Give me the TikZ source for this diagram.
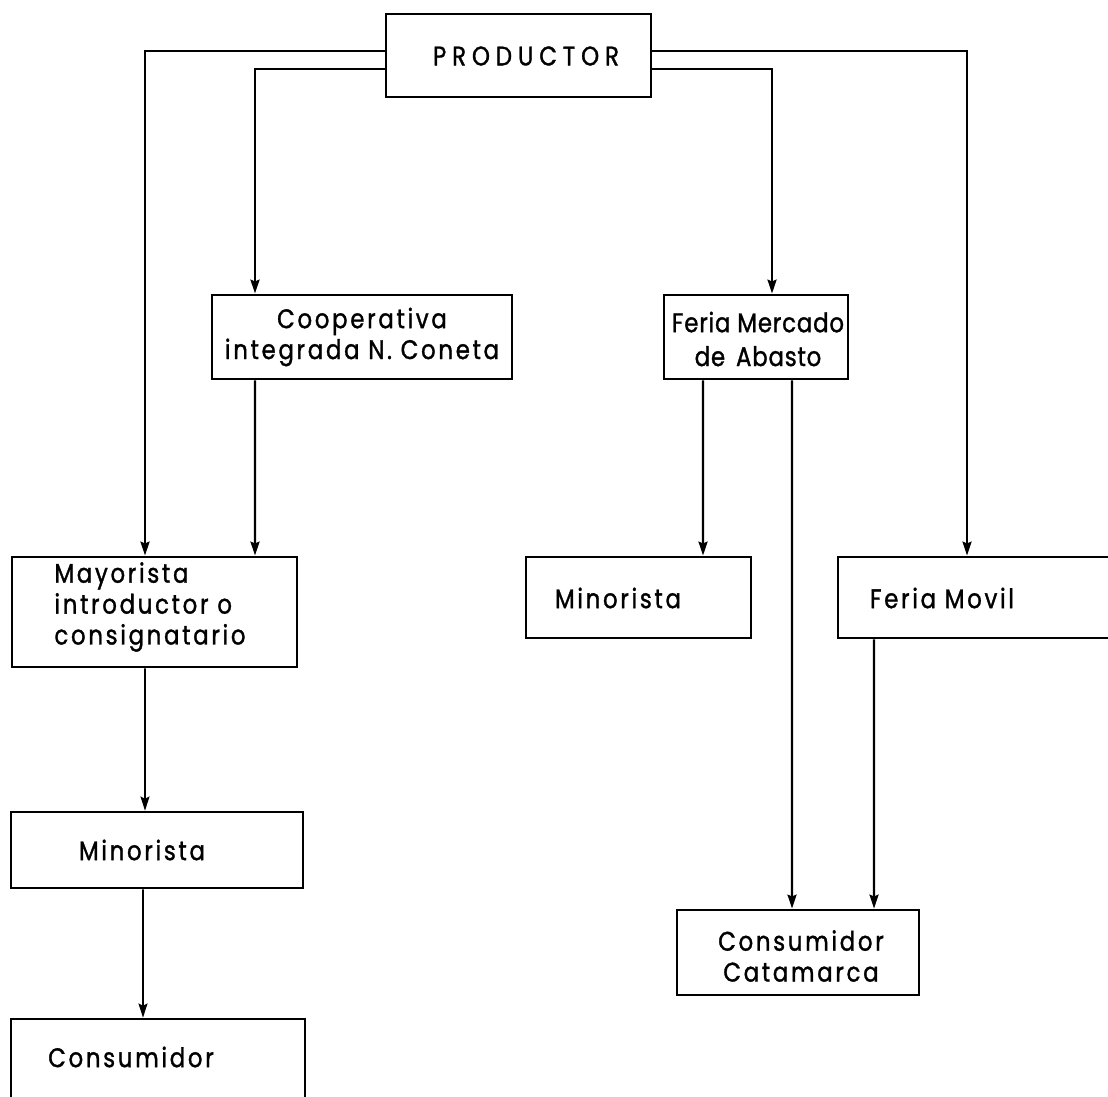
\documentclass[tikz,border=0pt]{standalone}
\usepackage{fontspec}
\setmainfont{Poppins}[LetterSpace=10, FakeStretch=0.85, FakeBold=1.2]
\usetikzlibrary{arrows.meta}

\begin{document}
\begin{tikzpicture}[x=1bp,y=-1bp,
  box/.style={draw, line width=2.8bp, inner sep=0pt},
  lbl/.style={inner sep=0pt, font=\fontsize{27}{31}\selectfont},
  link/.style={line width=2.4bp, -{Stealth[length=14bp,width=9bp,inset=2bp]}},
  thinlink/.style={link, line width=1.8bp}]
\useasboundingbox (0,0) rectangle (1108,1097);
\clip (0,0) rectangle (1108,1097);

% boxes
\node[box, minimum width=265bp, minimum height=83bp] (prod) at (518.5,55.5) {};
\node[box, minimum width=300bp, minimum height=84bp] (coop) at (362,337) {};
\node[box, minimum width=184bp, minimum height=84bp] (feria) at (756,337) {};
\node[box, minimum width=285bp, minimum height=110bp] (mayor) at (154.5,612) {};
\node[box, minimum width=225bp, minimum height=81bp] (minR) at (638.5,597.5) {};
\node[box, minimum width=274bp, minimum height=81bp] (movil) at (975,597.5) {};
\node[box, minimum width=292bp, minimum height=76bp] (minL) at (157,850) {};
\node[box, minimum width=242bp, minimum height=85bp] (cc) at (798,952.5) {};
\node[box, minimum width=294bp, minimum height=91bp] (cons) at (158,1064.5) {};

% labels
\node[lbl, font=\fontsize{27}{31}\selectfont\addfontfeatures{LetterSpace=22}] (tprod) at (526,56) {PRODUCTOR};
\node[lbl, align=center] (tcoop) at (362,337) {Cooperativa\\integrada N. Coneta};
\node[lbl, align=center, font=\fontsize{27}{34}\selectfont\addfontfeatures{LetterSpace=3}] (tferia) at (758,339) {Feria Mercado\\de\hspace{4bp} Abasto};
\node[lbl, align=left] (tmayor) at (150,607) {Mayorista\\introductor o\\consignatario};
\node[lbl] (tminR) at (618,598) {Minorista};
\node[lbl] (tmovil) at (942,598) {Feria Movil};
\node[lbl] (tminL) at (142,850) {Minorista};
\node[lbl, align=center] (tcc) at (801,956) {Consumidor\\Catamarca};
\node[lbl] (tcons) at (131,1057) {Consumidor};

% flows out of the producer
\draw[link] ([yshift=4.5bp]prod.west) -| ([xshift=-9.5bp]mayor.north);
\draw[link] ([yshift=-13.5bp]prod.west) -| ([xshift=-107bp]coop.north);
\draw[link] ([yshift=-13.5bp]prod.east) -| ([xshift=16bp]feria.north);
\draw[link] ([yshift=4.5bp]prod.east) -| ([xshift=-8bp]movil.north);

% intermediate flows
\draw[link] ([xshift=-107bp]coop.south) -- ([xshift=100.5bp]mayor.north);
\draw[link] ([xshift=-53bp]feria.south) -- ([xshift=64.5bp]minR.north);
\draw[link] ([xshift=36bp]feria.south) -- ([xshift=-6bp]cc.north);
\draw[link] ([xshift=-101bp]movil.south) -- ([xshift=76bp]cc.north);
\draw[thinlink] ([xshift=-9.5bp]mayor.south) -- ([xshift=-12bp]minL.north);
\draw[thinlink] ([xshift=-14bp]minL.south) -- ([xshift=-15bp]cons.north);
\end{tikzpicture}
\end{document}
